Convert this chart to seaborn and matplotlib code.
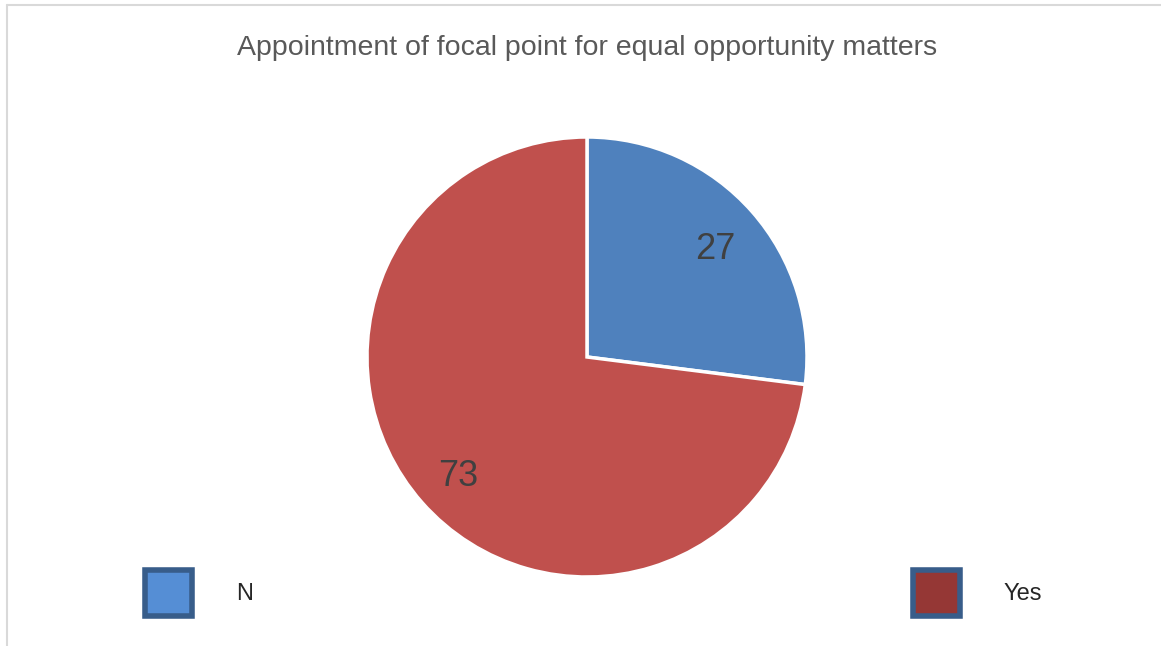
import matplotlib
matplotlib.use("Agg")
import matplotlib.pyplot as plt
import seaborn as sns
from matplotlib.patches import Patch
from matplotlib.lines import Line2D

# data
labels = ["N", "Yes"]
values = [27, 73]
slice_colors = ["#4F81BD", "#C0504D"]
legend_fill = ["#558ED5", "#953735"]
legend_edge = "#385D8A"
title = "Appointment of focal point for equal opportunity matters"

sns.set_theme(style="white")
plt.rcParams["font.family"] = ["Liberation Sans", "DejaVu Sans"]

W, H = 1161, 646
fig = plt.figure(figsize=(W / 100, H / 100), dpi=100)
fig.patch.set_facecolor("white")

# pie axes: centre (587, 357) px from top, radius 220 px
r_px = 220
lim = 1.05
size = 2 * r_px * lim
cx, cy = 587, H - 357
ax = fig.add_axes([(cx - size / 2) / W, (cy - size / 2) / H, size / W, size / H])

wedges, texts, autotexts = ax.pie(
    values, colors=slice_colors, startangle=90, counterclock=False,
    autopct=lambda p: f"{p:.0f}", pctdistance=0.78,
    wedgeprops=dict(edgecolor="white", linewidth=2.5),
    textprops=dict(fontsize=26, color="#404040"))
# value labels sit a little lower in the original
for t in autotexts:
    x, y = t.get_position()
    t.set_position((x, y - 0.028))
ax.set_xlim(-lim, lim)
ax.set_ylim(-lim, lim)
ax.set_aspect("equal")
ax.axis("off")

fig.text(587 / W, 1 - 48 / H, title, ha="center", va="center",
         fontsize=20.5, color="#595959")

# legends, one entry each, placed left and right
for i, x_px in enumerate([145, 913]):
    h = Patch(facecolor=legend_fill[i], edgecolor=legend_edge,
              linewidth=4, joinstyle="round")
    fig.legend([h], [labels[i]], loc="center left",
               bbox_to_anchor=(x_px / W, 53 / H), frameon=False,
               fontsize=17, handlelength=2.0, handleheight=2.6,
               handletextpad=1.85, borderpad=0, borderaxespad=0)

# light chart border (left and top edges)
fig.add_artist(Line2D([7 / W, 7 / W], [0, 1 - 5 / H], color="#D9D9D9", lw=1.5))
fig.add_artist(Line2D([7 / W, 1], [1 - 5 / H, 1 - 5 / H], color="#D9D9D9", lw=1.5))

fig.savefig("out.png", dpi=100, facecolor="white")
